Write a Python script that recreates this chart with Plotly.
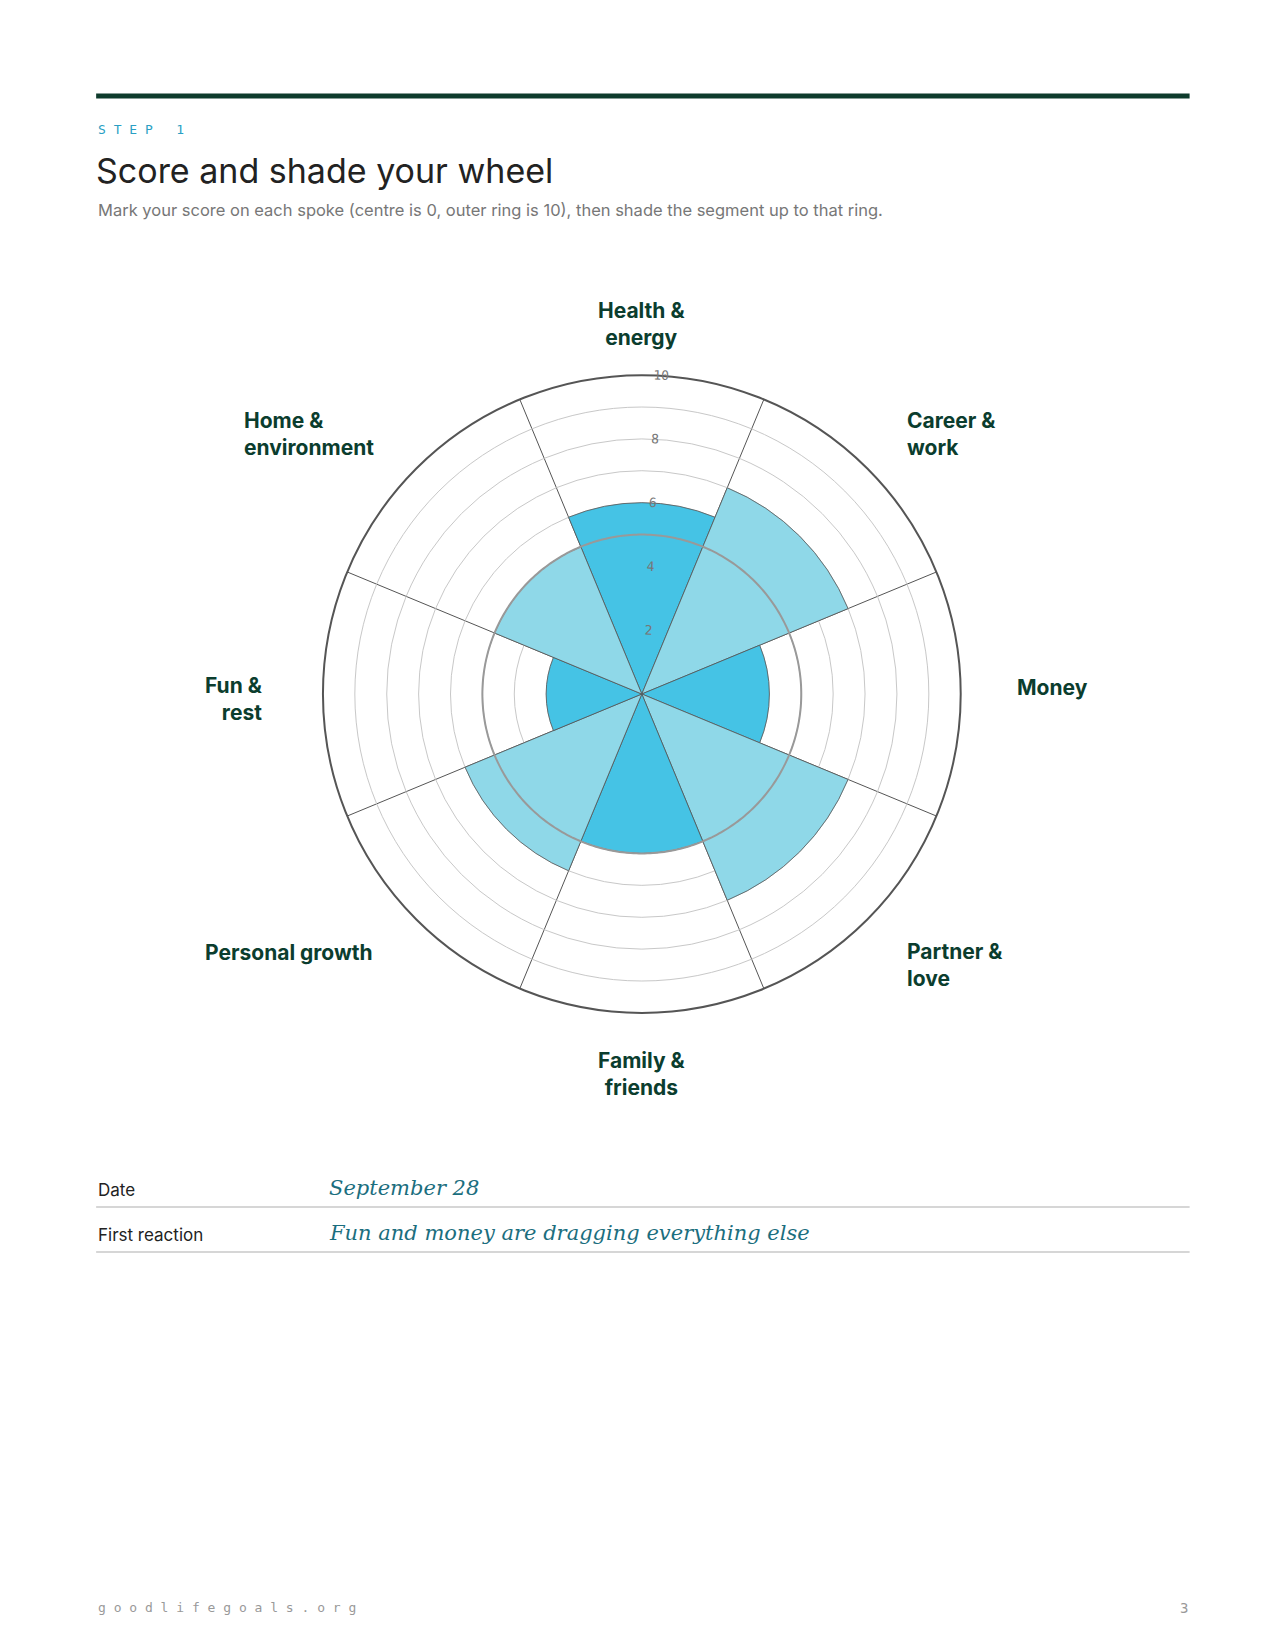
import plotly.graph_objects as go

areas = ["Health &<br>energy", "Career &<br>work", "Money", "Partner &<br>love",
         "Family &<br>friends", "Personal growth", "Fun &<br>rest", "Home &<br>environment"]
scores = [6, 7, 4, 7, 5, 6, 3, 5]
angles = [0, 45, 90, 135, 180, 225, 270, 315]
shades = ["#45C3E5", "#8FD8E8", "#45C3E5", "#8FD8E8", "#45C3E5", "#8FD8E8", "#45C3E5", "#8FD8E8"]
entries = [("Date", "September 28"), ("First reaction", "Fun and money are dragging everything else")]

W, H = 1275, 1650
RW, RH = 1215, 1573  # reference image units


def px(x):
    return x / RW


def py(y):
    return 1 - y / RH


GREEN = "#0B3D2E"
FONT = "Inter, Noto Sans, sans-serif"

fig = go.Figure()
fig.add_trace(go.Barpolar(r=scores, theta=angles, width=[45] * 8,
                          marker=dict(color=shades, line=dict(color="#555", width=0.8)),
                          hoverinfo="skip"))
# darker midpoint ring
fig.add_trace(go.Scatterpolar(r=[5] * 361, theta=list(range(361)), mode="lines",
                              line=dict(color="#999", width=2), hoverinfo="skip"))

cx, cy, R = 604, 654, 304
fig.update_layout(
    width=W, height=H, margin=dict(l=0, r=0, t=0, b=0),
    paper_bgcolor="white", plot_bgcolor="white", showlegend=False,
    polar=dict(
        domain=dict(x=[px(cx - R), px(cx + R)], y=[py(cy + R), py(cy - R)]),
        bgcolor="white",
        radialaxis=dict(range=[0, 10], tickvals=list(range(1, 11)),
                        ticktext=["", "2", "", "4", "", "6", "", "8", "", "10"],
                        showline=False, ticks="", angle=88, tickangle=90,
                        gridcolor="#c8c8c8", gridwidth=1,
                        tickfont=dict(family="DejaVu Sans Mono", size=13, color="#777"),
                        layer="above traces"),
        angularaxis=dict(rotation=90, direction="clockwise",
                         tickvals=[22.5 + 45 * k for k in range(8)],
                         showticklabels=False, ticks="",
                         gridcolor="#555", gridwidth=1,
                         linecolor="#555", linewidth=2, layer="above traces"),
    ),
)

shapes = [dict(type="line", xref="paper", yref="paper", x0=px(84), x1=px(1126),
               y0=py(84), y1=py(84), line=dict(color="#0E3B2C", width=5))]
ann = [
    dict(x=px(84), y=py(116), text="S T E P   1", xanchor="left", yanchor="middle",
         font=dict(family="DejaVu Sans Mono", size=13, color="#2A9FC4")),
    dict(x=px(82), y=py(155), text="Score and shade your wheel", xanchor="left", yanchor="middle",
         font=dict(family=FONT, size=34, color="#222")),
    dict(x=px(84), y=py(193), text="Mark your score on each spoke (centre is 0, outer ring is 10), then shade the segment up to that ring.",
         xanchor="left", yanchor="middle", font=dict(family=FONT, size=16.5, color="#777")),
]

label_pos = [(604, 301, "center"), (855, 406, "left"), (960, 648, "left"), (855, 912, "left"),
             (604, 1016, "center"), (350, 900, "right"), (245, 659, "right"), (223, 406, "left")]
for (x, y, al), name in zip(label_pos, areas):
    ann.append(dict(x=px(x), y=py(y), text=f"<b>{name}</b>", xanchor=al, yanchor="middle",
                    align=al, font=dict(family=FONT, size=21, color=GREEN)))

for i, (lab, val) in enumerate(entries):
    y = 1127 + 43 * i
    ann.append(dict(x=px(84), y=py(y), text=lab, xanchor="left", yanchor="middle",
                    font=dict(family=FONT, size=17, color="#222")))
    ann.append(dict(x=px(304), y=py(y - 2), text=f"<i>{val}</i>", xanchor="left", yanchor="middle",
                    font=dict(family="DejaVu Serif", size=21, color="#1B6E7E")))
    shapes.append(dict(type="line", xref="paper", yref="paper", x0=px(84), x1=px(1126),
                       y0=py(y + 16), y1=py(y + 16), line=dict(color="#c8c8c8", width=1.5)))

ann.append(dict(x=px(84), y=py(1525), text="g o o d l i f e g o a l s . o r g", xanchor="left", yanchor="middle",
                font=dict(family="DejaVu Sans Mono", size=13, color="#999")))
ann.append(dict(x=px(1126), y=py(1525), text="3", xanchor="right", yanchor="middle",
                font=dict(family="DejaVu Sans Mono", size=14, color="#999")))
for a in ann:
    a.update(xref="paper", yref="paper", showarrow=False)

fig.update_layout(shapes=shapes, annotations=ann)
fig.write_html("out.html")
